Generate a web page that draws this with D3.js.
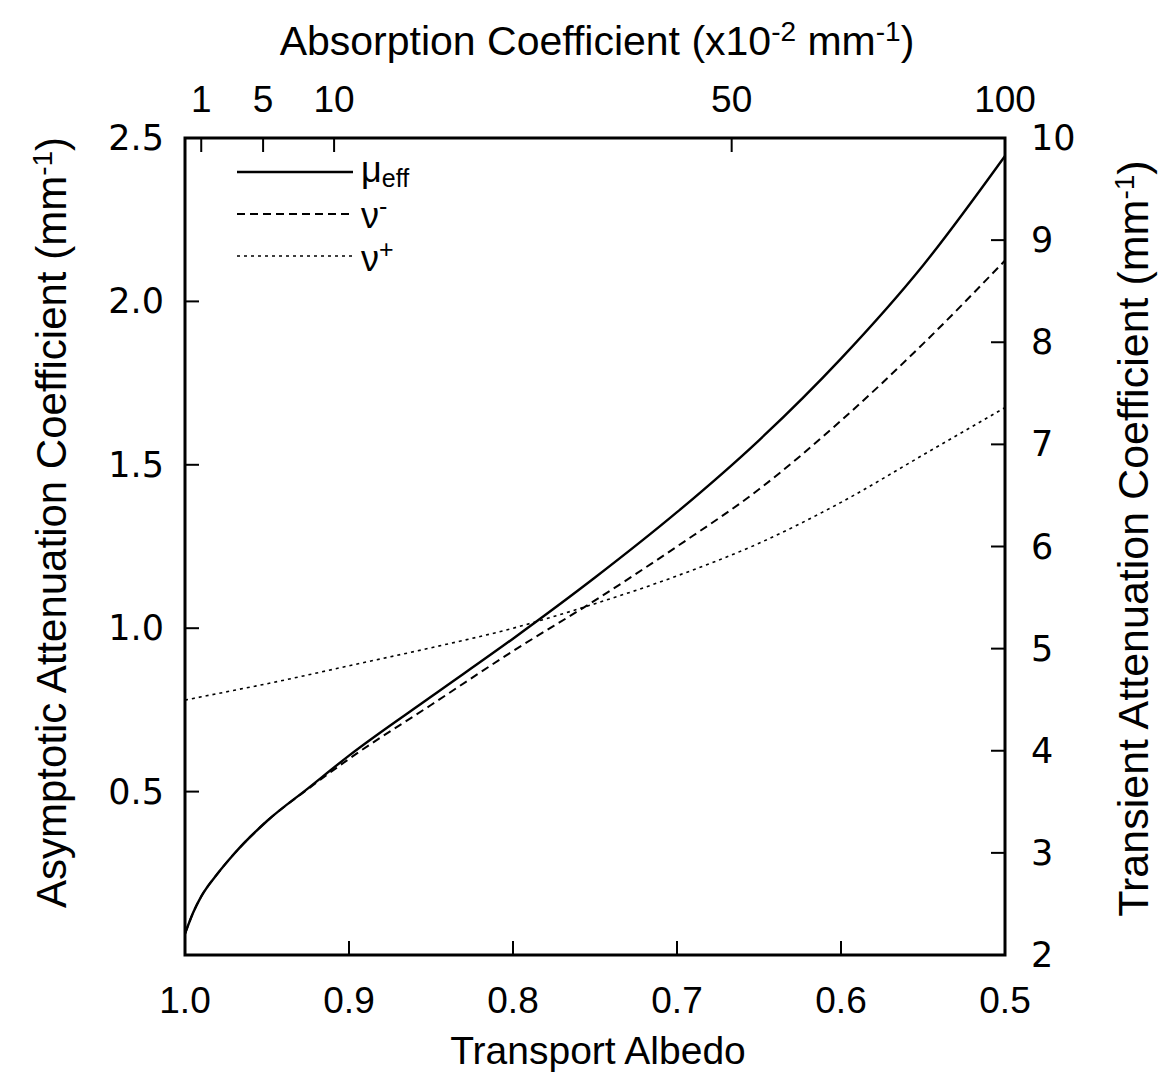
<!DOCTYPE html>
<html>
<head>
<meta charset="utf-8">
<script src="https://cdn.jsdelivr.net/npm/d3@7"></script>
<style>
  body { margin: 0; background: #fff; }
  svg text { font-family: "Liberation Sans", Arial, sans-serif; fill: #000; }
  .num { font-family: "DejaVu Sans", sans-serif; }
</style>
</head>
<body>
<div id="chart"></div>
<script>
// transport albedo (x)
var albedo = [1.0, 0.995, 0.99, 0.98, 0.97, 0.95, 0.925, 0.9, 0.85, 0.8, 0.75, 0.7, 0.65, 0.6, 0.55, 0.5];
var muEff  = [0.065, 0.13, 0.18, 0.25, 0.31, 0.41, 0.51, 0.61, 0.79, 0.968, 1.155, 1.355, 1.575, 1.825, 2.11, 2.445];
var nuMinus = [0.065, 0.13, 0.18, 0.25, 0.31, 0.41, 0.508, 0.6, 0.765, 0.93, 1.085, 1.25, 1.425, 1.635, 1.87, 2.125];
var nuPlus = [0.78, 0.785, 0.79, 0.8, 0.81, 0.83, 0.857, 0.885, 0.94, 1.0, 1.075, 1.16, 1.26, 1.385, 1.53, 1.675];

var bottomTicks = [1.0, 0.9, 0.8, 0.7, 0.6, 0.5];
var leftTicks = [0.5, 1.0, 1.5, 2.0, 2.5];
var rightTicks = [2, 3, 4, 5, 6, 7, 8, 9, 10];
var topTicks = [1, 5, 10, 50, 100]; // absorption coefficient, x10^-2 mm^-1

var margin = {top: 138, right: 160, bottom: 128, left: 185};
var W = 1165, H = 1083;
var width = W - margin.left - margin.right;
var height = H - margin.top - margin.bottom;

var svg = d3.select("#chart").append("svg")
    .attr("width", W)
    .attr("height", H);
var g = svg.append("g")
    .attr("transform", "translate(" + margin.left + "," + margin.top + ")");

var x = d3.scaleLinear().domain([1.0, 0.5]).range([0, width]);
var y = d3.scaleLinear().domain([0, 2.5]).range([height, 0]);
var y2 = d3.scaleLinear().domain([2, 10]).range([height, 0]);
// absorption (with reduced scattering of 1 mm^-1) -> albedo position
var xTop = function(v) { return x(1 / (1 + v / 100)); };

var tickLen = 14;

// bottom axis
g.append("g")
    .attr("transform", "translate(0," + height + ")")
    .selectAll("line").data(bottomTicks.slice(1, -1)).enter().append("line")
    .attr("x1", d => x(d)).attr("x2", d => x(d))
    .attr("y1", 0).attr("y2", -tickLen)
    .attr("stroke", "#000").attr("stroke-width", 2);
g.append("g").selectAll("text").data(bottomTicks).enter().append("text")
    .attr("x", d => x(d)).attr("y", height + 58)
    .attr("text-anchor", "middle")
    .style("font-size", "37px")
    .text(d => d.toFixed(1));

// left axis
g.append("g").selectAll("line").data(leftTicks.slice(0, -1)).enter().append("line")
    .attr("x1", 0).attr("x2", tickLen)
    .attr("y1", d => y(d)).attr("y2", d => y(d))
    .attr("stroke", "#000").attr("stroke-width", 2);
g.append("g").selectAll("text").data(leftTicks).enter().append("text")
    .attr("class", "num")
    .attr("x", -21).attr("y", d => y(d) + 12)
    .attr("text-anchor", "end")
    .style("font-size", "35px")
    .text(d => d.toFixed(1));

// right axis
g.append("g").selectAll("line").data(rightTicks.slice(1, -1)).enter().append("line")
    .attr("x1", width).attr("x2", width - tickLen)
    .attr("y1", d => y2(d)).attr("y2", d => y2(d))
    .attr("stroke", "#000").attr("stroke-width", 2);
g.append("g").selectAll("text").data(rightTicks).enter().append("text")
    .attr("class", "num")
    .attr("x", width + 26).attr("y", d => y2(d) + 12)
    .attr("text-anchor", "start")
    .style("font-size", "35px")
    .text(d => d);

// top axis
g.append("g").selectAll("line").data(topTicks.slice(0, -1)).enter().append("line")
    .attr("x1", d => xTop(d)).attr("x2", d => xTop(d))
    .attr("y1", 0).attr("y2", tickLen)
    .attr("stroke", "#000").attr("stroke-width", 2);
g.append("g").selectAll("text").data(topTicks).enter().append("text")
    .attr("x", d => xTop(d)).attr("y", -26)
    .attr("text-anchor", "middle")
    .style("font-size", "37px")
    .text(d => d);

// frame
g.append("rect")
    .attr("width", width).attr("height", height)
    .attr("fill", "none").attr("stroke", "#000").attr("stroke-width", 3);

// curves
var series = [
    {vals: muEff, dash: null, w: 2.4},
    {vals: nuMinus, dash: "8,5", w: 2},
    {vals: nuPlus, dash: "3,4", w: 1.6}
];
series.forEach(function(s) {
    var line = d3.line()
        .x((d, i) => x(albedo[i]))
        .y(d => y(d))
        .curve(d3.curveMonotoneX);
    g.append("path")
        .datum(s.vals)
        .attr("d", line)
        .attr("fill", "none")
        .attr("stroke", "#000")
        .attr("stroke-width", s.w)
        .attr("stroke-dasharray", s.dash);
});

// legend
var leg = svg.append("g");
var legY = [172, 214, 256];
series.forEach(function(s, i) {
    leg.append("line")
        .attr("x1", 237).attr("x2", 353)
        .attr("y1", legY[i]).attr("y2", legY[i])
        .attr("stroke", "#000")
        .attr("stroke-width", s.w)
        .attr("stroke-dasharray", s.dash);
});
var t1 = leg.append("text").attr("x", 361).attr("y", 182).style("font-size", "36px");
t1.append("tspan").text("\u03bc");
t1.append("tspan").attr("dy", 5).style("font-size", "25px").text("eff");
var t2 = leg.append("text").attr("x", 361).attr("y", 228).style("font-size", "36px");
t2.append("tspan").text("\u03bd");
t2.append("tspan").attr("dy", -13).style("font-size", "25px").text("-");
var t3 = leg.append("text").attr("x", 361).attr("y", 271).style("font-size", "36px");
t3.append("tspan").text("\u03bd");
t3.append("tspan").attr("dy", -13).style("font-size", "25px").text("+");

// axis titles
svg.append("text")
    .attr("x", margin.left + width / 2 + 3).attr("y", 1064)
    .attr("text-anchor", "middle")
    .style("font-size", "39px")
    .text("Transport Albedo");

var tt = svg.append("text")
    .attr("x", 597).attr("y", 55)
    .attr("text-anchor", "middle")
    .style("font-size", "41px");
tt.append("tspan").text("Absorption Coefficient (x10");
tt.append("tspan").attr("dy", -14).style("font-size", "28px").text("-2");
tt.append("tspan").attr("dy", 14).text(" mm");
tt.append("tspan").attr("dy", -14).style("font-size", "28px").text("-1");
tt.append("tspan").attr("dy", 14).text(")");

var lt = svg.append("text")
    .attr("transform", "translate(66," + (margin.top + height / 2 - 24) + ") rotate(-90)")
    .attr("text-anchor", "middle")
    .style("font-size", "42px");
lt.append("tspan").text("Asymptotic Attenuation Coefficient (mm");
lt.append("tspan").attr("dy", -14).style("font-size", "28px").text("-1");
lt.append("tspan").attr("dy", 14).text(")");

var rt = svg.append("text")
    .attr("transform", "translate(1148," + (margin.top + height / 2 - 8) + ") rotate(-90)")
    .attr("text-anchor", "middle")
    .style("font-size", "43px");
rt.append("tspan").text("Transient Attenuation Coefficient (mm");
rt.append("tspan").attr("dy", -14).style("font-size", "28px").text("-1");
rt.append("tspan").attr("dy", 14).text(")");
</script>
</body>
</html>
